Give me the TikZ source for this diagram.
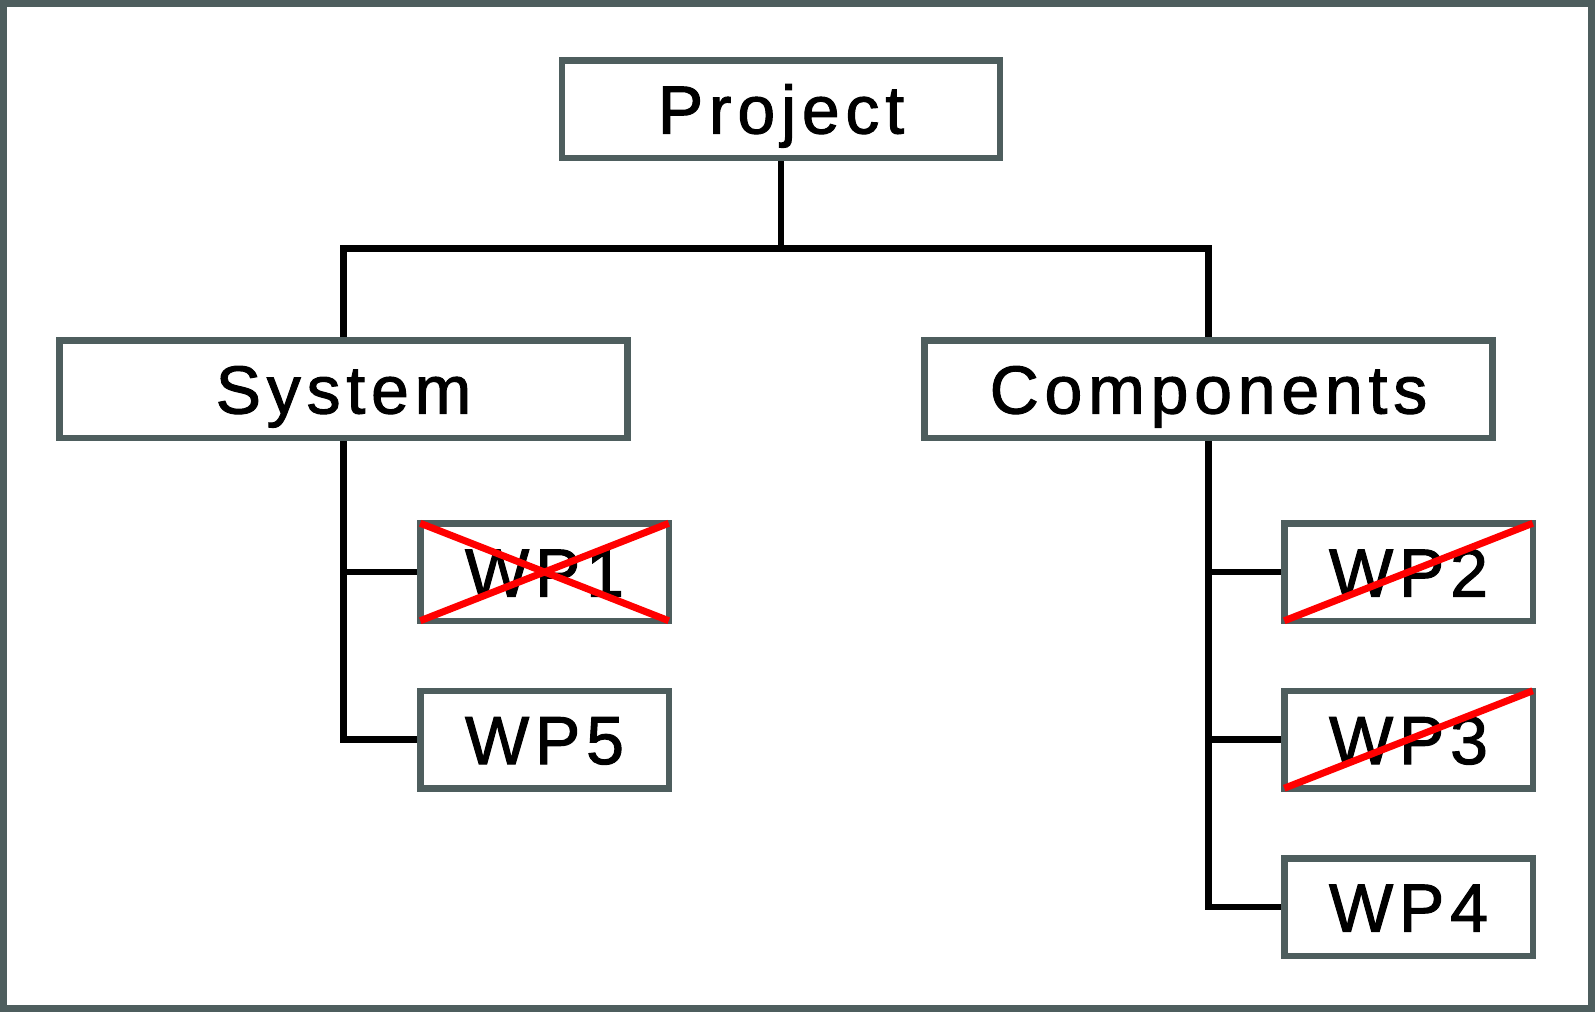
\documentclass[tikz,border=0pt]{standalone}
\usepackage{fontspec}
\setmainfont{Liberation Sans}[LetterSpace=8.5, FakeBold=1.5]
\usetikzlibrary{backgrounds}
\definecolor{frame}{HTML}{4E5E5E}
\tikzset{
  box/.style={draw=frame, line width=6.5pt, fill=white, rectangle, inner sep=0pt, outer sep=0pt,
    font=\fontsize{68}{80}\selectfont, text height=49pt, text depth=0pt, minimum height=97.5pt},
  wide/.style={box, minimum width=568pt},
  small/.style={box, minimum width=248.5pt},
  conn/.style={line width=6.5pt, black},
  cross/.style={line width=7pt, red, line cap=butt}
}
\begin{document}
\begin{tikzpicture}[x=1pt,y=-1pt]
\useasboundingbox (0,0) rectangle (1595,1012);

\node[box, minimum width=438pt] (proj) at (781,109) {Project};
\node[wide] (sys) at (343.5,389) {System};
\node[wide] (comp) at (1208.5,389) {Components};
\node[small] (wp1) at (544.5,572) {WP1};
\node[small] (wp5) at (544.5,739.5) {WP5};
\node[small] (wp2) at (1408.5,572) {WP2};
\node[small] (wp3) at (1408.5,739.5) {WP3};
\node[small] (wp4) at (1408.5,907) {WP4};

\begin{scope}[on background layer]
\fill[white] (0,0) rectangle (1595,1012);
\coordinate (bus) at (781,248.5);
\draw[conn] (proj.south) -- (bus);
\draw[conn] (bus) -| (sys.north);
\draw[conn] (bus) -| (comp.north);
\draw[conn] (sys.south) |- (wp5.west);
\draw[conn] (sys.south |- wp1.west) -- (wp1.west);
\draw[conn] (comp.south) |- (wp4.west);
\draw[conn] (comp.south |- wp2.west) -- (wp2.west);
\draw[conn] (comp.south |- wp3.west) -- (wp3.west);
\end{scope}

\draw[frame, line width=7pt] (3.5,3.5) rectangle (1591.5,1008.5);

\draw[cross] (wp1.north west) -- (wp1.south east);
\draw[cross] (wp1.south west) -- (wp1.north east);
\draw[cross] (wp2.south west) -- (wp2.north east);
\draw[cross] (wp3.south west) -- (wp3.north east);
\end{tikzpicture}
\end{document}
